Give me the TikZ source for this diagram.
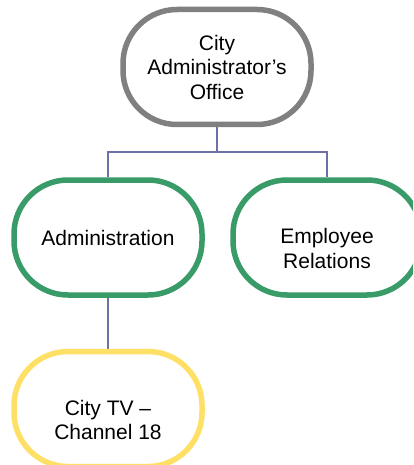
\documentclass[tikz,border=0pt]{standalone}
\usepackage{fontspec}
\setmainfont{Liberation Sans}
\usepackage{tikz}
\usetikzlibrary{backgrounds}

\definecolor{boxgray}{RGB}{128,128,128}
\definecolor{boxgreen}{RGB}{56,155,104}
\definecolor{boxyellow}{RGB}{255,224,102}
\definecolor{linkblue}{RGB}{112,112,168}
% pushes a two-line label down inside its box
\newcommand{\lowline}{\rule{0pt}{37pt}}

\begin{document}
\begin{tikzpicture}[
  x=1pt, y=-1pt,
  unit/.style={
    rectangle, rounded corners=54pt, draw, fill=white,
    line width=5.5pt, minimum width=188pt, minimum height=115pt,
    align=center, font=\fontsize{21}{24.5}\selectfont
  },
  link/.style={draw=linkblue, line width=1.5pt}
]
  \useasboundingbox (0,0) rectangle (413,465);
  \clip (0,0) rectangle (413,465);
  \node[unit, draw=boxgray] (office) at (217,67) {City\\Administrator’s\\Office};
  \node[unit, draw=boxgreen] (admin) at (108,237.5) {Administration};
  \node[unit, draw=boxgreen] (relations) at (327,237.5) {\lowline Employee\\Relations};
  \node[unit, draw=boxyellow] (citytv) at (108,409) {\lowline City TV –\\Channel 18};
  \begin{scope}[on background layer]
    \draw[link] (office.south) -- ++(0,25) coordinate (fork);
    \draw[link] (fork) -| (admin.north);
    \draw[link] (fork) -| (relations.north);
    \draw[link] (admin.south) -- (citytv.north);
  \end{scope}
\end{tikzpicture}
\end{document}
